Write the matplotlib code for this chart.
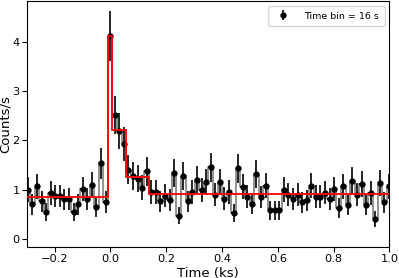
import matplotlib.pyplot as plt
import numpy as np

# light curve, 16 s bins (16.384 s), times in ks
bin_ks = 0.016384
t_start = -0.296
rate = np.array([
    1.00, 0.70, 1.07, 0.76, 0.55, 0.93, 0.87, 0.87, 0.80, 0.81,
    0.54, 0.70, 1.01, 0.81, 1.10, 0.64, 1.53, 0.75, 4.11, 2.51,
    2.19, 1.92, 1.40, 1.28, 1.22, 1.04, 1.37, 0.95, 0.95, 0.76,
    0.88, 0.79, 1.33, 0.47, 1.28, 0.76, 0.95, 1.20, 0.99, 1.16,
    1.45, 0.90, 1.15, 0.82, 0.95, 0.53, 1.43, 1.06, 0.86, 0.71,
    1.31, 0.85, 1.08, 0.58, 0.58, 0.58, 1.00, 0.90, 0.81, 0.90,
    0.74, 0.78, 1.08, 0.86, 0.86, 0.94, 0.81, 1.01, 0.63, 1.07,
    0.69, 1.18, 0.90, 1.12, 0.69, 0.93, 0.41, 1.13, 0.74, 1.07,
])
time = t_start + bin_ks * np.arange(len(rate))
# poisson errors from the counts in each bin
rate_err = np.sqrt(rate * bin_ks * 1000) / (bin_ks * 1000)

# step model
model_edges = [-0.3, -0.0093, 0.0071, 0.0563, 0.1382, 1.0]
model_levels = [0.85, 4.11, 2.20, 1.25, 0.91]

fig = plt.figure(figsize=(3.99, 2.78), dpi=100)
ax = fig.add_axes([0.067, 0.112, 0.909, 0.884])

ax.step(time, rate, where='mid', color='gray', lw=1.2, zorder=1)
ax.errorbar(time, rate, xerr=bin_ks / 2, yerr=rate_err, fmt='o', color='black',
            ms=3.5, elinewidth=1.2, zorder=2)
ax.stairs(model_levels, model_edges, color='red', lw=1.3, baseline=None, zorder=3)

# legend handle: dot with vertical error bar only
ax.errorbar([np.nan], [np.nan], yerr=[1], fmt='o', color='black', ms=3.5,
            elinewidth=1.2, label='Time bin = 16 s')

ax.set_xlim(-0.3, 1.0)
ax.set_ylim(-0.16, 4.82)
ax.set_xticks([-0.2, 0.0, 0.2, 0.4, 0.6, 0.8, 1.0])
ax.set_yticks([0, 1, 2, 3, 4])
ax.tick_params(labelsize=8.2, pad=1.5)
ax.set_xlabel('Time (ks)', fontsize=9.5)
ax.set_ylabel('Counts/s', fontsize=9.5)
ax.xaxis.set_label_coords(0.5, -0.08)
ax.yaxis.set_label_coords(-0.041, 0.5)
ax.legend(loc='upper right', fontsize=6.8, borderpad=0.6, handletextpad=1.2)

fig.savefig('out.png', dpi=100)
